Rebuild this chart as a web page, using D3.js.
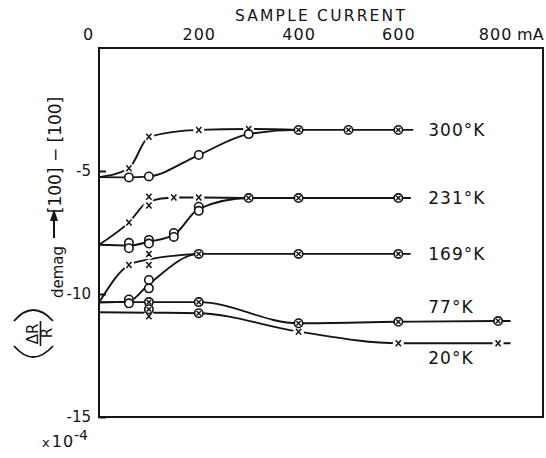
<!DOCTYPE html>
<html>
<head>
<meta charset="utf-8">
<script src="https://cdn.jsdelivr.net/npm/d3@7"></script>
<style>
  html, body { margin: 0; padding: 0; background: #fff; }
  svg { display: block; font-family: "DejaVu Sans", sans-serif; }
</style>
</head>
<body>
<svg id="chart" width="546" height="458"></svg>
<script>
// ---- axis ticks --------------------------------------------------------
const xTicks = [0, 200, 400, 600, 800];        // sample current, mA
const yTicks = [-5, -10, -15];                  // (ΔR/R) x 10^-4

// ---- temperatures ------------------------------------------------------
const temps = ["300°K", "231°K", "169°K", "77°K", "20°K"];

// measured points [current mA, ΔR/R x1e-4]
// open: open circles, cross: x marks, both: circled crosses (coinciding)
const open300  = [[60, -5.26], [100, -5.22], [200, -4.35], [300, -3.5]];
const cross300 = [[60, -4.89], [100, -3.61], [200, -3.33], [300, -3.29]];
const both300  = [[400, -3.33], [500, -3.33], [600, -3.33]];

const open231  = [[60, -7.92], [60, -8.14], [100, -7.8], [100, -7.95],
                  [150, -7.52], [150, -7.68], [200, -6.45], [200, -6.62]];
const cross231 = [[60, -7.09], [100, -6.05], [100, -6.4], [150, -6.08], [200, -6.08]];
const both231  = [[300, -6.1], [400, -6.1], [600, -6.1]];

const open169  = [[60, -10.22], [60, -10.38], [100, -9.43], [100, -9.77]];
const cross169 = [[60, -8.82], [100, -8.37], [100, -8.82]];
const both169  = [[200, -8.37], [400, -8.37], [600, -8.37]];

const open77   = [];
const cross77  = [];
const both77   = [[100, -10.33], [200, -10.33], [400, -11.19], [600, -11.13], [800, -11.1]];

const open20   = [];
const cross20  = [[100, -10.9], [400, -11.53], [600, -12.0], [800, -12.0]];
const both20   = [[100, -10.62], [200, -10.78]];

// value at zero current, and current where each trace stops
const startValues = [-5.25, -8.0, -10.35, -10.33, -10.74];
const endCurrents = [630, 625, 625, 825, 825];

const openSets  = [open300, open231, open169, open77, open20];
const crossSets = [cross300, cross231, cross169, cross77, cross20];
const bothSets  = [both300, both231, both169, both77, both20];

// ---- scales ------------------------------------------------------------
const W = 546, H = 458;
const mLeft = 99, mRight = 543, mTop = 48, mBottom = 417;
const x = d3.scaleLinear().domain([0, 890]).range([mLeft, mRight]);
const y = d3.scaleLinear().domain([-15, 0]).range([mBottom, mTop]);

const svg = d3.select("#chart");
const ink = "#141414";

// mean value per current, sorted by current
function meanByCurrent(pts) {
  return d3.rollups(pts, v => d3.mean(v, d => d[1]), d => d[0])
           .sort((a, b) => a[0] - b[0]);
}

const line = d3.line()
  .x(d => x(d[0]))
  .y(d => y(d[1]))
  .curve(d3.curveMonotoneX);

// ---- traces ------------------------------------------------------------
const traces = [];
temps.forEach((t, i) => {
  const o = openSets[i], c = crossSets[i], b = bothSets[i];
  const s = startValues[i], e = endCurrents[i];
  if (o.length && c.length) {
    const main = meanByCurrent(o.concat(b));
    const last = main[main.length - 1];
    traces.push([[0, s]].concat(main, [[e, last[1]]]));
    const bb = meanByCurrent(b);
    traces.push([[0, s]].concat(meanByCurrent(c), [bb[0]]));
  } else {
    const all = meanByCurrent(o.concat(c, b));
    const last = all[all.length - 1];
    traces.push([[0, s]].concat(all, [[e, last[1]]]));
  }
});

svg.append("g")
  .selectAll("path")
  .data(traces)
  .join("path")
  .attr("d", line)
  .attr("fill", "none")
  .attr("stroke", ink)
  .attr("stroke-width", 1.9);

// ---- markers -----------------------------------------------------------
const crosses = crossSets.flat();
const opens = openSets.flat();
const boths = bothSets.flat();

const gm = svg.append("g");
// white gap behind each x mark
gm.selectAll("circle.halo")
  .data(crosses)
  .join("circle")
  .attr("class", "halo")
  .attr("cx", d => x(d[0]))
  .attr("cy", d => y(d[1]))
  .attr("r", 5.5)
  .attr("fill", "#fff");

gm.selectAll("path.cross")
  .data(crosses)
  .join("path")
  .attr("class", "cross")
  .attr("transform", d => `translate(${x(d[0])},${y(d[1])})`)
  .attr("d", "M-2.6,-3L2.6,3M-2.6,3L2.6,-3")
  .attr("stroke", ink)
  .attr("stroke-width", 1.5)
  .attr("fill", "none");

gm.selectAll("circle.open")
  .data(opens)
  .join("circle")
  .attr("class", "open")
  .attr("cx", d => x(d[0]))
  .attr("cy", d => y(d[1]))
  .attr("r", 4.2)
  .attr("fill", "#fff")
  .attr("stroke", ink)
  .attr("stroke-width", 1.6);

const gb = gm.selectAll("g.both")
  .data(boths)
  .join("g")
  .attr("class", "both")
  .attr("transform", d => `translate(${x(d[0])},${y(d[1])})`);
gb.append("circle")
  .attr("r", 4.2)
  .attr("fill", "#fff")
  .attr("stroke", ink)
  .attr("stroke-width", 1.6);
gb.append("path")
  .attr("d", "M-2.2,-2.2L2.2,2.2M-2.2,2.2L2.2,-2.2")
  .attr("stroke", ink)
  .attr("stroke-width", 1.4);

// ---- temperature labels ------------------------------------------------
const labelShift = [0, 0, 0, -14, 15];
svg.append("g")
  .selectAll("text")
  .data(temps)
  .join("text")
  .attr("x", x(660))
  .attr("y", (d, i) => y(bothSets[i].concat(crossSets[i]).sort((a, b) => a[0] - b[0]).slice(-1)[0][1]) + labelShift[i])
  .attr("dy", "0.36em")
  .attr("font-size", 17)
  .attr("letter-spacing", 1)
  .attr("fill", ink)
  .text(d => d);

// ---- frame -------------------------------------------------------------
svg.append("rect")
  .attr("x", mLeft).attr("y", mTop)
  .attr("width", mRight - mLeft).attr("height", mBottom - mTop)
  .attr("fill", "none")
  .attr("stroke", ink)
  .attr("stroke-width", 2);

// ---- top axis ----------------------------------------------------------
const ax = svg.append("g")
  .attr("transform", `translate(0,${mTop})`)
  .call(d3.axisTop(x).tickValues(xTicks).tickSize(0).tickPadding(8).tickFormat(d => d));
ax.select(".domain").remove();
ax.selectAll("text")
  .attr("font-size", 16)
  .attr("font-family", "DejaVu Sans, sans-serif")
  .attr("letter-spacing", 1)
  .attr("fill", ink)
  .attr("dx", d => d === 0 ? -11 : (d === 800 ? -3 : 0));
svg.append("text")
  .attr("x", x(800) + 19).attr("y", mTop - 8)
  .attr("font-size", 16).attr("fill", ink)
  .text("mA");
svg.append("text")
  .attr("x", 321).attr("y", 21)
  .attr("text-anchor", "middle")
  .attr("font-size", 15.5).attr("letter-spacing", 2.2).attr("fill", ink)
  .text("SAMPLE CURRENT");

// ---- left axis ---------------------------------------------------------
const ay = svg.append("g")
  .attr("transform", `translate(${mLeft},0)`)
  .call(d3.axisLeft(y).tickValues(yTicks).tickSizeInner(-7).tickSizeOuter(0).tickPadding(8).tickFormat(d => String(d)));
ay.select(".domain").remove();
ay.selectAll("line").attr("stroke", ink).attr("stroke-width", 2);
ay.selectAll("text")
  .attr("font-size", 15)
  .attr("font-family", "DejaVu Sans, sans-serif")
  .attr("fill", ink);

// scale factor
const sf = svg.append("text").attr("x", 42).attr("y", 447).attr("fill", ink);
sf.append("tspan").attr("font-size", 13).text("x");
sf.append("tspan").attr("font-size", 16).attr("dx", 2).attr("letter-spacing", 1).text("10");
sf.append("tspan").attr("font-size", 14).attr("dy", -7).text("-4");

// ---- rotated y title ---------------------------------------------------
function rot(g, bx, cy, txt, size) {
  return g.append("text")
    .attr("transform", `translate(${bx},${cy}) rotate(-90)`)
    .attr("text-anchor", "middle")
    .attr("font-size", size)
    .attr("fill", ink)
    .text(txt);
}
const yt = svg.append("g");
rot(yt, 61, 155, "[100] − [100]", 17);
rot(yt, 63, 272, "demag", 15);
// arrow
yt.append("line")
  .attr("x1", 54).attr("y1", 238).attr("x2", 54).attr("y2", 218)
  .attr("stroke", ink).attr("stroke-width", 2);
yt.append("path")
  .attr("d", "M54,209L50,221L58,221Z")
  .attr("fill", ink);
// (ΔR / R) with curved brackets
rot(yt, 38, 334, "ΔR", 15);
rot(yt, 51.5, 333, "R", 15);
yt.append("line")
  .attr("x1", 40.5).attr("y1", 321).attr("x2", 40.5).attr("y2", 346)
  .attr("stroke", ink).attr("stroke-width", 1.6);
yt.append("path")
  .attr("d", "M14,346Q33,368 53,346")
  .attr("fill", "none").attr("stroke", ink).attr("stroke-width", 1.8);
yt.append("path")
  .attr("d", "M14,321Q33,299 53,321")
  .attr("fill", "none").attr("stroke", ink).attr("stroke-width", 1.8);
</script>
</body>
</html>
